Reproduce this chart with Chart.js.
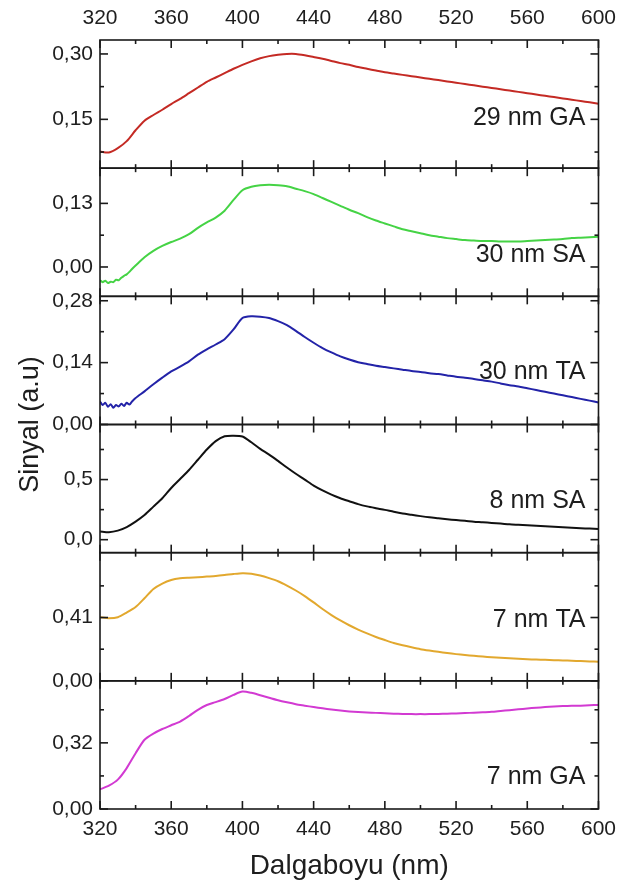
<!DOCTYPE html>
<html>
<head>
<meta charset="utf-8">
<script src="https://cdn.jsdelivr.net/npm/chart.js@4.4.1/dist/chart.umd.min.js"></script>
<style>
  html, body { margin: 0; padding: 0; background: #fff; }
</style>
</head>
<body>
<canvas id="c" width="625" height="886"></canvas>
<script>
// wavelength grid (nm)
var wl = [
  320, 325, 330, 335, 340, 345, 350, 355, 360, 365,
  370, 375, 380, 385, 390, 395, 400, 405, 410, 415,
  420, 425, 430, 435, 440, 445, 450, 455, 460, 465,
  470, 475, 480, 485, 490, 495, 500, 505, 510, 515,
  520, 525, 530, 535, 540, 545, 550, 555, 560, 565,
  570, 575, 580, 585, 590, 595, 600
];
// fine grid for the noisy start of the 30 nm curves
var noiseWl = [320, 321.5, 323, 324.5, 326, 327.5, 329, 330.5, 332, 333.5, 335, 336.5, 338];

var ga29 = [
  0.076, 0.074, 0.084, 0.100, 0.125, 0.147, 0.160, 0.172, 0.185, 0.197,
  0.210, 0.223, 0.236, 0.246, 0.256, 0.266, 0.275, 0.283, 0.290, 0.295,
  0.298, 0.300, 0.300, 0.297, 0.293, 0.289, 0.284, 0.279, 0.275, 0.270,
  0.266, 0.262, 0.258, 0.255, 0.252, 0.249, 0.246, 0.243, 0.240, 0.237,
  0.234, 0.231, 0.228, 0.225, 0.222, 0.219, 0.216, 0.213, 0.210, 0.207,
  0.204, 0.201, 0.198, 0.195, 0.192, 0.189, 0.186
];
var sa30Noise = [-0.027, -0.031, -0.028, -0.033, -0.030, -0.031, -0.026, -0.027, -0.022, -0.018, -0.015, -0.010, -0.004];
// from 340 nm on
var sa30 = [
  0.003, 0.020, 0.033, 0.043, 0.051, 0.058,
  0.067, 0.080, 0.091, 0.101, 0.115, 0.137, 0.157, 0.164, 0.167, 0.168,
  0.167, 0.165, 0.160, 0.155, 0.149, 0.141, 0.133, 0.125, 0.117, 0.110,
  0.102, 0.095, 0.089, 0.083, 0.077, 0.073, 0.069, 0.065, 0.062, 0.059,
  0.057, 0.055, 0.054, 0.053, 0.053, 0.052, 0.052, 0.052, 0.053, 0.054,
  0.055, 0.056, 0.057, 0.059, 0.060, 0.061, 0.062
];
var ta30Noise = [0.052, 0.044, 0.049, 0.040, 0.046, 0.038, 0.044, 0.041, 0.047, 0.042, 0.049, 0.045, 0.052];
// from 340 nm on
var ta30 = [
  0.060, 0.075, 0.091, 0.106, 0.120, 0.131,
  0.143, 0.158, 0.170, 0.181, 0.193, 0.215, 0.241, 0.245, 0.244, 0.241,
  0.234, 0.225, 0.212, 0.198, 0.185, 0.173, 0.163, 0.154, 0.147, 0.141,
  0.137, 0.133, 0.130, 0.127, 0.124, 0.121, 0.119, 0.116, 0.114, 0.111,
  0.108, 0.106, 0.103, 0.100, 0.097, 0.093, 0.089, 0.086, 0.082, 0.078,
  0.074, 0.070, 0.066, 0.062, 0.058, 0.054, 0.050
];
var sa8 = [
  0.069, 0.062, 0.075, 0.105, 0.150, 0.205, 0.275, 0.345, 0.430, 0.505,
  0.580, 0.665, 0.750, 0.820, 0.860, 0.865, 0.858, 0.810, 0.755, 0.708,
  0.655, 0.600, 0.548, 0.500, 0.450, 0.410, 0.375, 0.345, 0.320, 0.296,
  0.277, 0.262, 0.248, 0.232, 0.218, 0.207, 0.196, 0.186, 0.178, 0.170,
  0.163, 0.157, 0.150, 0.145, 0.139, 0.134, 0.128, 0.124, 0.120, 0.116,
  0.112, 0.107, 0.103, 0.099, 0.095, 0.092, 0.089
];
var ta7 = [
  0.412, 0.406, 0.412, 0.442, 0.478, 0.535, 0.595, 0.630, 0.653, 0.664,
  0.668, 0.671, 0.675, 0.679, 0.685, 0.692, 0.697, 0.694, 0.682, 0.665,
  0.645, 0.617, 0.585, 0.549, 0.508, 0.465, 0.426, 0.391, 0.360, 0.332,
  0.307, 0.284, 0.264, 0.245, 0.230, 0.217, 0.205, 0.196, 0.188, 0.180,
  0.173, 0.167, 0.162, 0.157, 0.153, 0.149, 0.146, 0.143, 0.140, 0.138,
  0.136, 0.134, 0.132, 0.130, 0.128, 0.126, 0.124
];
var ga7 = [
  0.095, 0.113, 0.142, 0.198, 0.270, 0.335, 0.365, 0.387, 0.405, 0.423,
  0.450, 0.480, 0.503, 0.517, 0.532, 0.552, 0.568, 0.562, 0.550, 0.538,
  0.526, 0.516, 0.507, 0.500, 0.493, 0.487, 0.481, 0.476, 0.472, 0.469,
  0.467, 0.465, 0.463, 0.461, 0.460, 0.459, 0.459, 0.459, 0.460, 0.461,
  0.462, 0.464, 0.466, 0.468, 0.470, 0.474, 0.478, 0.482, 0.486, 0.490,
  0.493, 0.496, 0.498, 0.499, 0.500, 0.502, 0.503
];

// panels, top to bottom
var panelNames = ["29 nm GA", "30 nm SA", "30 nm TA", "8 nm SA", "7 nm TA", "7 nm GA"];
var panelColors = ["#c42a24", "#45d345", "#2323a8", "#111111", "#e2a82e", "#d23ad2"];
var yMin = [0.038, -0.06, 0, -0.108, 0, 0];
var yMax = [0.332, 0.202, 0.29, 0.958, 0.83, 0.62];
var yTicks = [[0.15, 0.30], [0, 0.13], [0, 0.14, 0.28], [0, 0.5], [0, 0.41], [0, 0.32]];
var yMinor = [[0.075, 0.225], [0.065], [0.07, 0.21], [0.25, 0.75], [0.205, 0.615], [0.16, 0.48]];
var yDecimals = [2, 2, 2, 1, 2, 2];
var xMajor = [320, 360, 400, 440, 480, 520, 560, 600];
var xMinor = [340, 380, 420, 460, 500, 540, 580];

var labelFrac = [0.61, 0.68, 0.59, 0.6, 0.53, 0.75];

function zip(xs, ys) {
  return ys.map(function (v, i) { return { x: xs[i], y: v }; });
}
var wlFrom340 = wl.slice(4);
var seriesData = [
  zip(wl, ga29),
  zip(noiseWl, sa30Noise).concat(zip(wlFrom340, sa30)),
  zip(noiseWl, ta30Noise).concat(zip(wlFrom340, ta30)),
  zip(wl, sa8),
  zip(wl, ta7),
  zip(wl, ga7)
];

var FONT = "Arial, 'Liberation Sans', sans-serif";
var TEXT = "#1e1e1e";

var datasets = seriesData.map(function (d, i) {
  return {
    label: panelNames[i],
    data: d,
    xAxisID: "x",
    yAxisID: "y" + i,
    borderColor: panelColors[i],
    borderWidth: 2,
    pointRadius: 0,
    tension: 0.25,
    fill: false
  };
});

var scales = {
  x: {
    type: "linear", position: "bottom", min: 320, max: 600,
    ticks: { stepSize: 40, color: TEXT, font: { family: FONT, size: 21 }, padding: 8 },
    grid: { display: false, drawTicks: false },
    border: { display: false },
    title: { display: true, text: "Dalgaboyu (nm)", color: TEXT, font: { family: FONT, size: 28 }, padding: { top: 0, bottom: 3 } },
    afterFit: function (s) { s.height = 77; }
  },
  x2: {
    type: "linear", position: "top", min: 320, max: 600,
    ticks: { stepSize: 40, color: TEXT, font: { family: FONT, size: 21 }, padding: 9 },
    grid: { display: false, drawTicks: false },
    border: { display: false },
    afterFit: function (s) { s.height = 40; }
  },
  yt: {
    type: "linear", position: "left", weight: 10, min: 0, max: 1,
    ticks: { display: false },
    grid: { display: false, drawTicks: false },
    border: { display: false },
    title: { display: true, text: "Sinyal (a.u)", color: TEXT, font: { family: FONT, size: 27 }, padding: { top: 14, bottom: 0 } },
    afterFit: function (s) { s.width = 45; }
  }
};

panelNames.forEach(function (n, i) {
  scales["y" + i] = {
    type: "linear", position: "left", stack: "panels", stackWeight: 1, weight: 6 - i,
    min: yMin[i], max: yMax[i],
    afterBuildTicks: function (axis) {
      axis.ticks = yTicks[i].map(function (v) { return { value: v }; });
    },
    ticks: {
      color: TEXT, font: { family: FONT, size: 21 }, padding: 7, autoSkip: false,
      callback: function (v) { return v.toFixed(yDecimals[i]).replace(".", ","); }
    },
    grid: { display: false, drawTicks: false },
    border: { display: false },
    afterFit: function (s) { s.width = 55; }
  };
});

// frames, inward ticks and panel names
var framePlugin = {
  id: "frames",
  afterDatasetsDraw: function (chart) {
    var ctx = chart.ctx;
    var area = chart.chartArea;
    var xs = chart.scales.x;
    ctx.save();
    ctx.strokeStyle = "#1a1a1a";
    ctx.lineWidth = 1.6;

    function line(x1, y1, x2, y2) {
      ctx.beginPath();
      ctx.moveTo(x1, y1);
      ctx.lineTo(x2, y2);
      ctx.stroke();
    }

    for (var i = 0; i < panelNames.length; i++) {
      var ys = chart.scales["y" + i];
      ctx.strokeRect(area.left, ys.top, area.right - area.left, ys.bottom - ys.top);

      yTicks[i].forEach(function (v) {
        var p = ys.getPixelForValue(v);
        line(area.left, p, area.left + 8, p);
        line(area.right, p, area.right - 8, p);
      });
      yMinor[i].forEach(function (v) {
        var p = ys.getPixelForValue(v);
        line(area.left, p, area.left + 4, p);
        line(area.right, p, area.right - 4, p);
      });
      xMajor.forEach(function (v) {
        var p = xs.getPixelForValue(v);
        line(p, ys.top, p, ys.top + 8);
        line(p, ys.bottom, p, ys.bottom - 8);
      });
      xMinor.forEach(function (v) {
        var p = xs.getPixelForValue(v);
        line(p, ys.top, p, ys.top + 4);
        line(p, ys.bottom, p, ys.bottom - 4);
      });

      ctx.fillStyle = TEXT;
      ctx.font = "25px " + FONT;
      ctx.textAlign = "right";
      ctx.textBaseline = "middle";
      ctx.fillText(panelNames[i], area.right - 13, ys.top + labelFrac[i] * (ys.bottom - ys.top));
    }
    ctx.restore();
  }
};

new Chart(document.getElementById("c").getContext("2d"), {
  type: "line",
  data: { datasets: datasets },
  options: {
    responsive: false,
    animation: false,
    devicePixelRatio: 1,
    layout: { padding: { left: 0, right: 21, top: 0, bottom: 0 } },
    plugins: { legend: { display: false }, tooltip: { enabled: false } },
    scales: scales
  },
  plugins: [framePlugin]
});
</script>
</body>
</html>
